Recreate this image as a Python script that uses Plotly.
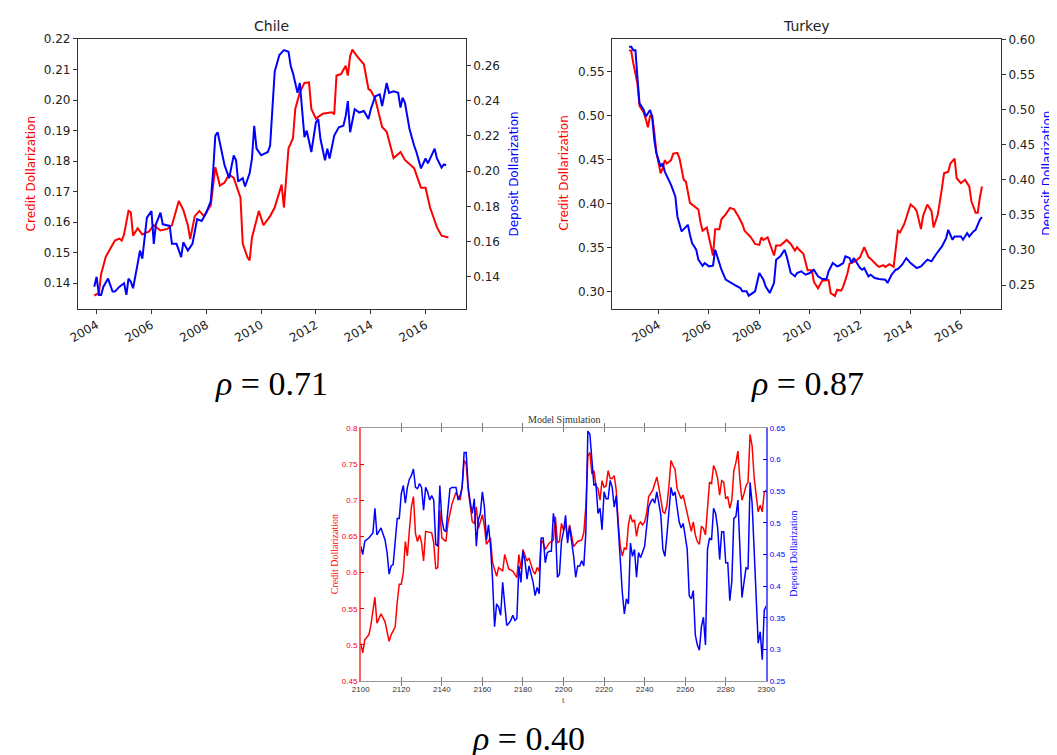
import plotly.graph_objects as go

# ---------------- DATA ----------------
chile_credit_dates = ["2003-12","2004-02","2004-03","2004-05","2004-06","2004-08","2004-09","2004-11","2004-12",
    "2005-01","2005-03","2005-04","2005-05","2005-07","2005-09","2005-12","2006-02","2006-05","2006-08","2006-10",
    "2007-01","2007-03","2007-05","2007-06","2007-08","2007-10","2007-12","2008-01","2008-03","2008-05","2008-07",
    "2008-09","2008-11","2009-01","2009-04","2009-05","2009-07","2009-08","2009-09","2009-10","2009-12","2010-02",
    "2010-05","2010-07","2010-08","2010-10","2010-11","2011-01","2011-03","2011-04","2011-06","2011-08","2011-10",
    "2011-11","2012-01","2012-04","2012-08","2012-09","2012-10","2012-12","2013-02","2013-03","2013-04","2013-05",
    "2013-07","2013-10","2013-12","2014-01","2014-03","2014-06","2014-08","2014-11","2015-02","2015-04","2015-08",
    "2015-11","2016-01","2016-03","2016-06","2016-08","2016-11"]
chile_credit = [0.136,0.1368,0.143,0.1486,0.150,0.153,0.154,0.1546,0.154,
    0.156,0.1637,0.1632,0.1556,0.158,0.156,0.157,0.159,0.1573,0.1578,0.159,
    0.167,0.164,0.159,0.1545,0.162,0.1637,0.162,0.1632,0.1656,0.178,0.172,
    0.173,0.1756,0.1745,0.168,0.153,0.1486,0.1475,0.155,0.1578,0.1637,0.159,
    0.162,0.1648,0.1675,0.1723,0.1648,0.1842,0.1874,0.1971,0.2025,0.2056,0.2058,
    0.1971,0.1939,0.1955,0.196,0.1953,0.208,0.2085,0.2112,0.208,0.2144,0.2165,
    0.2144,0.2117,0.2036,0.2031,0.2004,0.1912,0.1896,0.181,0.183,0.1804,0.1777,
    0.1713,0.1713,0.1648,0.1583,0.1556,0.155]

chile_deposit_dates = ["2003-12","2004-01","2004-02","2004-03","2004-04","2004-06","2004-08","2004-09","2004-11",
    "2005-01","2005-02","2005-03","2005-04","2005-05","2005-07","2005-08","2005-09","2005-11","2006-01","2006-02",
    "2006-03","2006-05","2006-06","2006-09","2006-10","2006-12","2007-02","2007-03","2007-05","2007-06","2007-07",
    "2007-09","2007-11","2008-01","2008-03","2008-04","2008-05","2008-06","2008-08","2008-09","2008-11","2009-01",
    "2009-02","2009-03","2009-05","2009-06","2009-08","2009-09","2009-10","2009-11","2010-01","2010-04","2010-05",
    "2010-07","2010-09","2010-11","2011-01","2011-02","2011-03","2011-05","2011-06","2011-07","2011-08","2011-09",
    "2011-11","2012-01","2012-02","2012-03","2012-05","2012-06","2012-07","2012-09","2012-11","2013-01","2013-02",
    "2013-03","2013-04","2013-06","2013-08","2013-10","2013-12","2014-01","2014-03","2014-05","2014-06","2014-08",
    "2014-09","2014-11","2015-01","2015-02","2015-03","2015-04","2015-06","2015-08","2015-09","2015-11","2016-01",
    "2016-02","2016-03","2016-05","2016-06","2016-08","2016-09","2016-10"]
chile_deposit = [0.1344,0.14,0.1297,0.1297,0.1344,0.139,0.1316,0.1316,0.1344,
    0.1363,0.1297,0.139,0.1372,0.1335,0.1475,0.1549,0.1503,0.1736,0.1773,0.1587,
    0.1698,0.1764,0.1698,0.1689,0.1587,0.1587,0.1512,0.1596,0.1549,0.1568,0.1587,
    0.1727,0.1717,0.1764,0.1829,0.1997,0.2202,0.2221,0.209,0.2034,0.196,0.209,
    0.2062,0.1941,0.196,0.1913,0.1988,0.2072,0.2258,0.2128,0.209,0.2109,0.2146,
    0.2566,0.266,0.2688,0.2678,0.2594,0.2557,0.2445,0.2501,0.2333,0.2193,0.223,
    0.2109,0.2277,0.2296,0.2184,0.2062,0.2128,0.2072,0.2202,0.2249,0.2258,0.2314,
    0.2398,0.2221,0.2352,0.2333,0.2342,0.2296,0.2352,0.2426,0.2436,0.237,0.2501,
    0.2445,0.2454,0.2445,0.2361,0.2417,0.2389,0.224,0.2146,0.2109,0.2016,0.2072,
    0.2044,0.2072,0.2128,0.2072,0.202,0.2038,0.2034]

turkey_credit_dates = ["2002-11","2002-12","2003-01","2003-03","2003-04","2003-06","2003-07","2003-08","2003-09",
    "2003-10","2003-11","2003-12","2004-02","2004-03","2004-04","2004-05","2004-07","2004-08","2004-10","2004-11",
    "2005-01","2005-02","2005-04","2005-06","2005-08","2005-09","2005-10","2005-12","2006-01","2006-03","2006-04",
    "2006-06","2006-07","2006-09","2006-11","2007-01","2007-03","2007-05","2007-06","2007-09","2007-11","2008-01",
    "2008-02","2008-03","2008-05","2008-06","2008-08","2008-09","2008-11","2009-02","2009-04","2009-06","2009-07",
    "2009-08","2009-10","2009-12","2010-02","2010-03","2010-05","2010-07","2010-10","2010-11","2011-01","2011-02",
    "2011-04","2011-05","2011-07","2011-08","2011-11","2012-01","2012-03","2012-05","2012-06","2012-09","2012-10",
    "2012-12","2013-01","2013-03","2013-05","2013-07","2013-08","2013-10","2013-12","2014-01","2014-03","2014-04",
    "2014-06","2014-07","2014-09","2014-11","2014-12","2015-02","2015-04","2015-05","2015-07","2015-08","2015-10",
    "2015-11","2016-01","2016-03","2016-05","2016-06","2016-08","2016-09","2016-10","2016-11"]
turkey_credit = [0.5743,0.5735,0.5593,0.5369,0.5108,0.5034,0.4959,0.4866,0.4996,
    0.4996,0.481,0.4586,0.4343,0.4399,0.4493,0.4455,0.4493,0.4567,0.4575,0.4511,
    0.4269,0.425,0.4007,0.397,0.3933,0.3784,0.369,0.3728,0.3616,0.341,0.3709,
    0.3709,0.3821,0.3877,0.3951,0.3933,0.3858,0.3765,0.369,0.3616,0.3541,0.353,
    0.3616,0.3586,0.3616,0.3541,0.341,0.3522,0.3522,0.3586,0.3541,0.3466,0.3504,
    0.3474,0.3429,0.3243,0.3243,0.3112,0.3037,0.3123,0.3131,0.2981,0.2951,0.3019,
    0.3011,0.3056,0.3205,0.3317,0.3347,0.3392,0.3504,0.3392,0.3373,0.3299,0.328,
    0.3299,0.328,0.331,0.328,0.369,0.3672,0.3765,0.3914,0.3989,0.3951,0.3914,
    0.3709,0.3858,0.3989,0.3914,0.3728,0.3877,0.4175,0.4343,0.4362,0.4455,0.4511,
    0.4287,0.4231,0.4269,0.4194,0.4026,0.3896,0.3896,0.4063,0.4194]

turkey_deposit_dates = ["2002-11","2002-12","2003-01","2003-02","2003-03","2003-04","2003-06","2003-07","2003-09",
    "2003-10","2003-11","2003-12","2004-02","2004-03","2004-04","2004-06","2004-07","2004-09","2004-10","2004-12",
    "2005-02","2005-03","2005-04","2005-05","2005-07","2005-08","2005-10","2005-11","2006-01","2006-03","2006-04",
    "2006-06","2006-07","2006-09","2006-11","2007-01","2007-04","2007-05","2007-07","2007-08","2007-11","2008-01",
    "2008-03","2008-04","2008-06","2008-08","2008-09","2008-11","2009-01","2009-02","2009-04","2009-06","2009-07",
    "2009-09","2009-11","2010-01","2010-03","2010-05","2010-07","2010-09","2010-10","2010-12","2011-02","2011-03",
    "2011-05","2011-06","2011-08","2011-09","2011-10","2012-01","2012-02","2012-03","2012-05","2012-06","2012-08",
    "2012-10","2013-01","2013-02","2013-04","2013-06","2013-07","2013-09","2013-11","2014-01","2014-04","2014-06",
    "2014-09","2014-11","2015-01","2015-04","2015-06","2015-07","2015-09","2015-10","2016-01","2016-02","2016-04",
    "2016-05","2016-07","2016-08","2016-10","2016-11"]
turkey_deposit = [0.5896,0.5896,0.5848,0.5848,0.5469,0.5089,0.4995,0.49,0.4995,
    0.49,0.4568,0.4378,0.4188,0.4236,0.4117,0.3999,0.3928,0.3762,0.3477,0.3264,
    0.3335,0.3358,0.3216,0.3098,0.3003,0.2861,0.2775,0.2813,0.2766,0.2775,0.3003,
    0.2789,0.2718,0.2576,0.2538,0.2505,0.2457,0.241,0.241,0.2348,0.241,0.2671,
    0.2576,0.2481,0.2386,0.2528,0.2861,0.2908,0.3003,0.2908,0.2671,0.2623,0.2671,
    0.2695,0.2647,0.2671,0.2718,0.2623,0.2585,0.2585,0.2695,0.2813,0.2766,0.2775,
    0.2813,0.2908,0.2884,0.2813,0.2884,0.2742,0.2718,0.2742,0.2623,0.2647,0.26,
    0.2585,0.2576,0.2528,0.2647,0.2718,0.2728,0.2789,0.2884,0.2813,0.2742,0.2766,
    0.2861,0.2837,0.2932,0.305,0.3169,0.3287,0.3145,0.3192,0.3192,0.3145,0.324,
    0.3192,0.3264,0.3287,0.343,0.3468]

sim_credit_t = [2100,2101,2102,2104,2105,2106,2107,2108,2110,2112,2114,2115,2117,2118,2119,2120,2121,2122,2123,
    2124,2125,2126,2127,2128,2129,2130,2131,2132,2134,2135,2136,2137,2138,2139,2140,2142,2143,2145,2147,2149,
    2150,2151,2152,2153,2155,2156,2157,2158,2160,2161,2162,2164,2165,2167,2168,2170,2171,2173,2175,2177,2178,
    2179,2180,2182,2183,2185,2186,2187,2188,2189,2190,2191,2193,2195,2196,2197,2198,2199,2200,2201,2202,2203,
    2205,2207,2209,2210,2211,2212,2213,2214,2215,2216,2217,2218,2219,2220,2221,2222,2223,2224,2225,2226,2227,
    2228,2229,2230,2231,2232,2233,2234,2235,2236,2237,2238,2239,2240,2241,2242,2244,2246,2247,2248,2249,2250,
    2251,2252,2253,2254,2255,2256,2257,2258,2259,2260,2262,2263,2264,2265,2266,2267,2268,2269,2270,2271,2272,
    2273,2274,2275,2276,2277,2278,2279,2280,2281,2282,2283,2284,2285,2286,2287,2288,2289,2290,2291,2292,2293,
    2294,2295,2296,2297,2298,2299,2300]
sim_credit = [0.502,0.489,0.507,0.514,0.527,0.545,0.566,0.530,0.543,0.532,0.505,0.514,0.525,0.559,0.584,0.584,0.600,0.643,0.623,
    0.659,0.691,0.705,0.654,0.643,0.652,0.641,0.616,0.657,0.655,0.655,0.641,0.605,0.607,0.686,0.648,0.643,0.668,0.695,0.711,0.700,
    0.718,0.755,0.750,0.714,0.670,0.668,0.691,0.661,0.680,0.664,0.639,0.648,0.614,0.595,0.607,0.602,0.625,0.605,0.602,0.593,0.625,
    0.605,0.632,0.616,0.620,0.602,0.598,0.607,0.602,0.645,0.641,0.632,0.641,0.645,0.677,0.641,0.643,0.668,0.659,0.666,0.648,0.666,
    0.636,0.643,0.645,0.655,0.691,0.761,0.766,0.736,0.741,0.720,0.716,0.700,0.727,0.718,0.720,0.741,0.730,0.730,0.734,0.714,0.668,
    0.636,0.623,0.634,0.632,0.666,0.680,0.670,0.673,0.650,0.666,0.670,0.666,0.670,0.682,0.705,0.714,0.732,0.718,0.700,0.684,0.682,
    0.693,0.720,0.755,0.748,0.743,0.716,0.709,0.702,0.707,0.695,0.668,0.657,0.670,0.652,0.643,0.639,0.664,0.661,0.652,0.689,0.725,
    0.723,0.748,0.741,0.730,0.707,0.727,0.725,0.702,0.705,0.689,0.700,0.741,0.752,0.768,0.727,0.700,0.709,0.720,0.725,0.791,0.775,
    0.732,0.707,0.684,0.693,0.684,0.711,0.714]

sim_deposit_t = [2100,2101,2102,2104,2106,2107,2108,2110,2112,2113,2114,2115,2116,2117,2118,2119,2120,2121,2122,
    2123,2124,2125,2126,2127,2128,2129,2130,2131,2132,2133,2134,2135,2136,2137,2138,2139,2140,2141,2142,2143,
    2144,2145,2147,2148,2149,2150,2151,2152,2153,2154,2155,2156,2157,2158,2159,2160,2161,2162,2163,2164,2165,
    2166,2167,2168,2169,2170,2171,2172,2173,2174,2175,2176,2177,2178,2179,2180,2181,2182,2183,2184,2185,2186,
    2187,2188,2189,2190,2191,2192,2193,2194,2195,2196,2197,2198,2199,2200,2201,2202,2203,2205,2206,2207,2208,
    2209,2210,2211,2212,2213,2214,2215,2216,2217,2218,2219,2220,2221,2222,2223,2224,2225,2226,2227,2228,2229,
    2230,2231,2232,2233,2234,2235,2236,2237,2238,2239,2240,2241,2242,2243,2244,2245,2246,2247,2248,2249,2250,
    2251,2252,2253,2254,2255,2256,2257,2258,2259,2260,2261,2262,2263,2264,2265,2266,2267,2268,2269,2270,2271,
    2272,2273,2274,2275,2276,2277,2278,2279,2280,2281,2282,2283,2284,2285,2286,2287,2288,2289,2290,2291,2292,
    2293,2294,2295,2296,2297,2298,2299,2300]
sim_deposit = [0.463,0.450,0.471,0.476,0.484,0.523,0.481,0.492,0.473,0.453,0.419,0.432,0.434,0.473,0.507,0.507,0.546,0.559,0.531,
    0.556,0.569,0.575,0.585,0.556,0.554,0.562,0.556,0.520,0.556,0.549,0.536,0.543,0.536,0.466,0.463,0.559,0.505,0.489,0.486,0.520,
    0.554,0.556,0.556,0.536,0.543,0.556,0.611,0.611,0.556,0.533,0.515,0.538,0.463,0.505,0.515,0.549,0.525,0.473,0.497,0.463,0.411,
    0.336,0.372,0.367,0.354,0.406,0.369,0.338,0.341,0.346,0.354,0.346,0.349,0.432,0.406,0.455,0.440,0.411,0.432,0.421,0.406,0.385,
    0.398,0.388,0.476,0.476,0.437,0.453,0.455,0.455,0.515,0.494,0.414,0.419,0.471,0.486,0.512,0.468,0.494,0.447,0.414,0.432,0.432,
    0.440,0.432,0.484,0.645,0.640,0.603,0.559,0.562,0.515,0.523,0.489,0.549,0.538,0.538,0.567,0.556,0.525,0.543,0.492,0.437,0.390,
    0.356,0.380,0.372,0.468,0.447,0.458,0.414,0.453,0.445,0.453,0.463,0.494,0.525,0.533,0.538,0.531,0.549,0.531,0.512,0.458,0.447,
    0.481,0.525,0.556,0.543,0.549,0.525,0.502,0.492,0.499,0.479,0.458,0.385,0.380,0.393,0.323,0.307,0.299,0.336,0.351,0.307,0.458,
    0.476,0.473,0.523,0.515,0.492,0.442,0.486,0.486,0.437,0.437,0.377,0.408,0.507,0.510,0.536,0.453,0.382,0.406,0.429,0.427,0.564,
    0.531,0.463,0.395,0.310,0.328,0.284,0.362,0.369]

chile_x_ticks = ["2004-01-01","2006-01-01","2008-01-01","2010-01-01","2012-01-01","2014-01-01","2016-01-01"]
titles = ["Chile", "Turkey", "Model Simulation"]
rho_labels = ["0.71", "0.87", "0.40"]

# ---------------- FIGURE ----------------
W, H = 1057, 755
RED, BLUE = "#ff0000", "#0000ff"
def fx(p): return p / W
def fy(p): return 1 - p / H

fig = go.Figure()
fig.add_trace(go.Scatter(x=chile_deposit_dates, y=chile_deposit, mode="lines", line=dict(color=BLUE, width=2), xaxis="x", yaxis="y2"))
fig.add_trace(go.Scatter(x=chile_credit_dates, y=chile_credit, mode="lines", line=dict(color=RED, width=2), xaxis="x", yaxis="y"))
fig.add_trace(go.Scatter(x=turkey_credit_dates, y=turkey_credit, mode="lines", line=dict(color=RED, width=2), xaxis="x2", yaxis="y3"))
fig.add_trace(go.Scatter(x=turkey_deposit_dates, y=turkey_deposit, mode="lines", line=dict(color=BLUE, width=2), xaxis="x2", yaxis="y4"))
fig.add_trace(go.Scatter(x=sim_credit_t, y=sim_credit, mode="lines", line=dict(color=RED, width=1.5), xaxis="x3", yaxis="y5"))
fig.add_trace(go.Scatter(x=sim_deposit_t, y=sim_deposit, mode="lines", line=dict(color=BLUE, width=1.5), xaxis="x3", yaxis="y6"))

mpl_font = dict(family="DejaVu Sans", size=12, color="#222")
AX = "#333"
def date_x(domain, rng, anchor):
    return dict(domain=domain, type="date", range=rng, anchor=anchor, tickvals=chile_x_ticks,
                tickformat="%Y", tickangle=-30, ticks="outside", ticklen=4, tickcolor=AX,
                showline=True, linecolor=AX, linewidth=1, mirror=True, showgrid=False, zeroline=False,
                tickfont=mpl_font)
def mpl_y(rng, dtick, anchor, side="left", overlay=None, domain=None):
    d = dict(range=rng, dtick=dtick, tick0=0, tickformat=".2f", anchor=anchor, side=side,
             ticks="outside", ticklen=4, tickcolor=AX, showline=True, linecolor=AX, linewidth=1,
             showgrid=False, zeroline=False, tickfont=mpl_font)
    if overlay: d["overlaying"] = overlay
    if domain: d["domain"] = domain
    return d

top_dom = [fy(299), fy(25)]
sim_font_l = dict(family="Liberation Sans", size=8, color=RED)
sim_font_r = dict(family="Liberation Sans", size=8, color=BLUE)
fig.update_layout(
    width=W, height=H, margin=dict(l=0, r=0, t=0, b=0),
    paper_bgcolor="white", plot_bgcolor="white", showlegend=False,
    xaxis=date_x([fx(61), fx(456)], ["2003-04-27", "2017-06-20"], "y"),
    yaxis=mpl_y([0.1317, 0.2201], 0.01, "x", domain=top_dom),
    yaxis2=mpl_y([0.1219, 0.2753], 0.02, "x", side="right", overlay="y"),
    xaxis2=date_x([fx(605), fx(1001)], ["2002-02-28", "2017-08-04"], "y3"),
    yaxis3=mpl_y([0.2806, 0.5873], 0.05, "x2", domain=top_dom),
    yaxis4=mpl_y([0.2163, 0.6012], 0.05, "x2", side="right", overlay="y3"),
    xaxis3=dict(domain=[fx(349), fx(762)], range=[2100, 2300], dtick=20, tick0=2100, anchor="y5",
                ticks="inside", ticklen=4, tickcolor="#777", showline=True, linecolor="#999", linewidth=1,
                mirror="allticks", showgrid=False, zeroline=False,
                tickfont=dict(family="Liberation Sans", size=8, color="#333")),
    yaxis5=dict(domain=[fy(677), fy(420)], range=[0.45, 0.8], dtick=0.05, tick0=0, anchor="x3",
                ticks="inside", ticklen=4, tickcolor=RED, showline=True, linecolor="#ff6060", linewidth=1.5,
                showgrid=False, zeroline=False, tickfont=sim_font_l),
    yaxis6=dict(range=[0.25, 0.65], dtick=0.05, tick0=0, anchor="x3", overlaying="y5", side="right",
                ticks="inside", ticklen=4, tickcolor=BLUE, showline=True, linecolor="#6060ff", linewidth=1.5,
                showgrid=False, zeroline=False, tickfont=sim_font_r),
)

ann = []
def add(text, x, y, size, color="#222", family="DejaVu Sans", angle=0):
    ann.append(dict(text=text, x=fx(x), y=fy(y), xref="paper", yref="paper", showarrow=False,
                    xanchor="center", yanchor="middle", textangle=angle,
                    font=dict(family=family, size=size, color=color)))
add(titles[0], 258, 12, 14)
add(titles[1], 803, 12, 14)
add("Credit Dollarization", 13, 162, 12, RED, angle=-90)
add("Deposit Dollarization", 505, 162, 12, BLUE, angle=-90)
add("Credit Dollarization", 556, 162, 12, RED, angle=-90)
add("Deposit Dollarization", 1047, 162, 12, BLUE, angle=-90)
add(titles[2], 556, 412, 10, "#333", family="Liberation Serif")
add("Credit Dollarization", 322, 548, 10, RED, family="Liberation Serif", angle=-90)
add("Deposit Dollarization", 789, 548, 10, BLUE, family="Liberation Serif", angle=-90)
add("t", 555, 696, 9, "#444", family="Liberation Serif")
for lab, (x, y) in zip(rho_labels, [(258, 375), (804, 375), (520, 735)]):
    add("<i>ρ</i> = " + lab, x, y, 34, "#000", family="Liberation Serif")
fig.update_layout(annotations=ann)

fig.write_html("out.html")
